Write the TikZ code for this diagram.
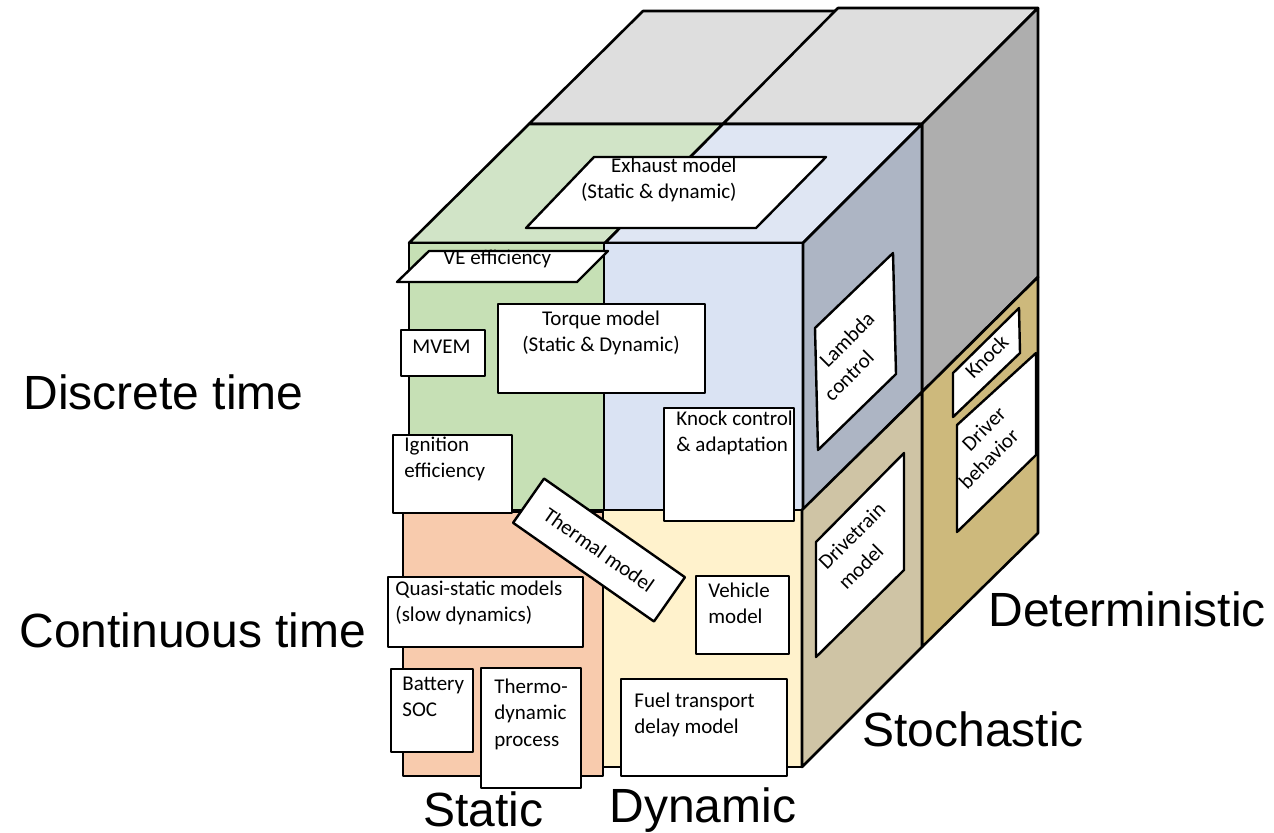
\documentclass[tikz,border=0pt]{standalone}
\usepackage{fontspec}
\setmainfont{Carlito}
\newfontfamily\dimfont{Liberation Sans}
\newcommand{\cardsize}{\fontsize{10.5}{13.25}\selectfont}
\definecolor{greytop}{HTML}{DEDEDE}
\definecolor{greyside}{HTML}{AEAEAE}
\definecolor{greentop}{HTML}{D1E4C7}
\definecolor{greenfront}{HTML}{C6E0B5}
\definecolor{bluetop}{HTML}{DFE6F3}
\definecolor{bluefront}{HTML}{DAE3F3}
\definecolor{blueside}{HTML}{ADB5C4}
\definecolor{orangefront}{HTML}{F8CBAD}
\definecolor{creamfront}{HTML}{FFF2CC}
\definecolor{tanside}{HTML}{CFC4A5}
\definecolor{goldside}{HTML}{CDB97C}

\begin{document}
\begin{tikzpicture}[x=0.5pt, y=-0.5pt,
    face/.style={draw, line width=1.3pt, line join=round},
    card/.style={draw, fill=white, line width=1.2pt, line join=round},
    cardtext/.style={font=\cardsize, align=left, inner sep=0pt, anchor=north west},
    sidetext/.style={font=\cardsize, rotate=45, inner sep=0pt},
    dimlabel/.style={font=\dimfont\fontsize{24}{28}\selectfont, anchor=base west, inner sep=0pt, text depth=0pt}
  ]

  \useasboundingbox (0,0) rectangle (1274,832);

  % --- back row (grey top, grey and gold sides) ---
  \path[face, fill=greytop] (529,124) -- (723,124) -- (838,11) -- (643,11) -- cycle;
  \path[face, fill=greytop] (723,124) -- (922,124) -- (1038,8) -- (838,8) -- cycle;
  \path[face, fill=greyside] (922,124) -- (1038,8) -- (1038,277) -- (922,392) -- cycle;
  \path[face, fill=goldside] (922,392) -- (1038,277) -- (1038,533) -- (922,647) -- cycle;

  % --- front row, top faces ---
  \path[face, fill=greentop] (409,243) -- (605,243) -- (723,124) -- (529,124) -- cycle;
  \path[face, fill=bluetop] (605,243) -- (803,243) -- (922,124) -- (723,124) -- cycle;

  % --- front row, front and side faces ---
  \path[face, fill=greenfront] (409,243) rectangle (604,510);
  \path[face, fill=bluefront] (604,243) rectangle (803,510);
  \path[face, fill=blueside] (803,243) -- (922,124) -- (922,392) -- (803,510) -- cycle;
  \path[face, fill=orangefront] (403,512) rectangle (603,776);
  \path[face, fill=creamfront] (603,510) rectangle (802,767);
  \path[face, fill=tanside] (802,510) -- (922,392) -- (922,647) -- (802,767) -- cycle;

  % --- cards lying on the top ---
  \path[card] (526,228) -- (756,228) -- (826,157) -- (594,157) -- cycle;
  \node[cardtext, align=right, anchor=north east] (exhaust) at (737,153.5) {\strut Exhaust model\\(Static \& dynamic)};
  \path[card] (397,282) -- (577,282) -- (608,251) -- (429,251) -- cycle;
  \node[cardtext] (ve) at (443,245.5) {\strut VE efficiency};

  % --- cards on the front ---
  \path[card] (498,304) rectangle (705,393);
  \node[cardtext, align=center, anchor=north] (torque) at (601,306.5) {\strut Torque model\\(Static \& Dynamic)};
  \foreach \n/\xa/\ya/\xb/\yb/\tx/\ty/\t in {
      mvem/401/330/485/376/412/353/MVEM,
      ignition/393/435/512/513/404/451/{Ignition\\efficiency},
      knock/664/408/794/521/676/425/{Knock control\\\& adaptation},
      quasi/388/577/583/647/395/595/{Quasi-static models\\(slow dynamics)},
      battery/391/669/473/752/402/690/{Battery\\SOC},
      thermo/481/668/581/788/494/693/{Thermo-\\dynamic\\process},
      vehicle/696/576/789/654/708/597/{Vehicle\\model},
      fuel/621/679/787/776/634/707/{Fuel transport\\delay model}} {
    \path[card] (\xa,\ya) rectangle (\xb,\yb);
    \node[cardtext] (\n) at (\tx,\ty-18.5) {\strut\t};
  }
  \node[card, rotate=-35, minimum width=86pt, minimum height=27pt, font=\cardsize, inner sep=0pt]
    (thermal) at (599,550) {Thermal model};

  % --- cards on the sides ---
  \path[card] (815,328) -- (893,253) -- (896,374) -- (818,450) -- cycle;
  \path[card] (816,542) -- (904,453) -- (904,570) -- (816,657) -- cycle;
  \path[card] (953,373) -- (1019,308) -- (1020,353) -- (953,417) -- cycle;
  \path[card] (957,425) -- (1036,353) -- (1036,455) -- (957,532) -- cycle;
  \foreach \n/\x/\y/\t in {lambda1/848/341/Lambda, lambda2/850/377/control,
      drive1/853/537/Drivetrain, drive2/862/568/model, knockside/988/358/Knock,
      driver1/985/430/Driver, driver2/990/460/behavior}
    \node[sidetext] (\n) at (\x,\y) {\strut\t};

  % --- axis labels ---
  \node[dimlabel] (discrete) at (23,409) {Discrete time};
  \node[dimlabel] (continuous) at (19,647) {Continuous time};
  \node[dimlabel] (static) at (423,826) {Static};
  \node[dimlabel] (dynamic) at (609,822) {Dynamic};
  \node[dimlabel] (stochastic) at (862,746) {Stochastic};
  \node[dimlabel] (deterministic) at (988,626) {Deterministic};

\end{tikzpicture}
\end{document}
